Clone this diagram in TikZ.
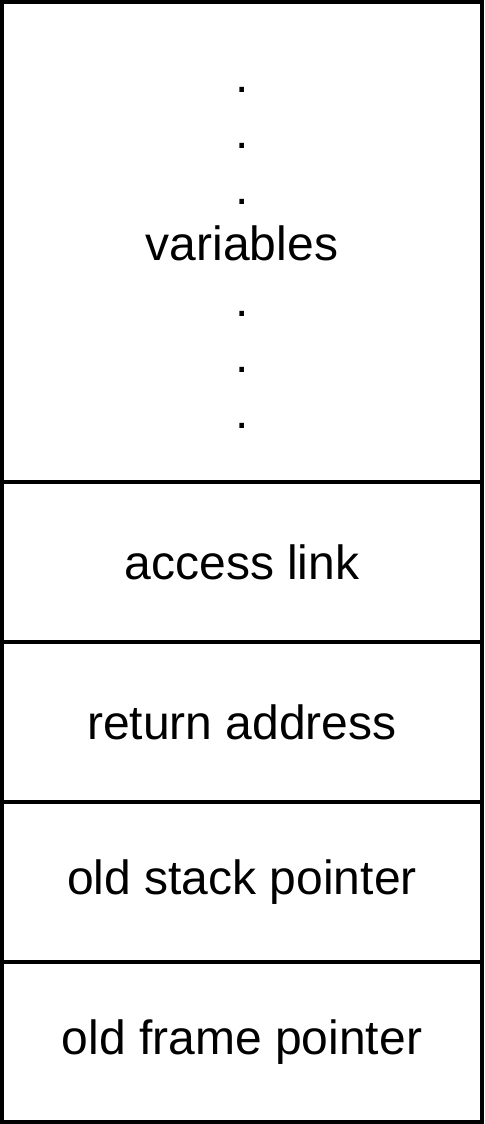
\documentclass[tikz,border=0pt]{standalone}
\usepackage{fontspec}
\setmainfont{Liberation Sans}
\begin{document}
\begin{tikzpicture}[x=0.5pt,y=-0.5pt,
  cell/.style={draw=black, line width=2pt, rectangle, minimum width=240pt, inner sep=0pt, outer sep=0pt,
    font=\fontsize{24}{28}\selectfont},
  label/.style={align=center, inner sep=0pt, font=\fontsize{24}{28}\selectfont}]
\useasboundingbox (0,0) rectangle (484,1124);
\node[cell, minimum height=240pt] (vars) at (242,242) {};
\node[label] (varstext) at (242,249) {\strut.\\\strut.\\\strut.\\\strut variables\\\strut.\\\strut.\\\strut.};
\node[cell, minimum height=80pt] (access) at (242,562) {access link};
\node[cell, minimum height=80pt] (ret) at (242,722) {return address};
\node[cell, minimum height=80pt] (osp) at (242,882) {old stack pointer};
\node[cell, minimum height=80pt] (ofp) at (242,1042) {old frame pointer};
\end{tikzpicture}
\end{document}
